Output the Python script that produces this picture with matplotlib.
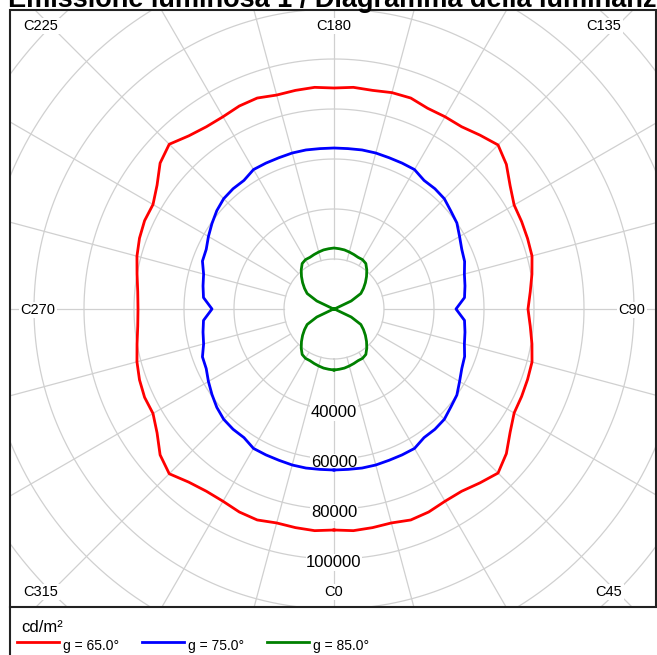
import numpy as np
import matplotlib
matplotlib.use("Agg")
import matplotlib.pyplot as plt
from matplotlib.patches import Rectangle
from matplotlib.lines import Line2D

plt.rcParams['font.family'] = ['Liberation Sans', 'DejaVu Sans']

# C-plane angles (degrees) and luminance values (cd/m²) per gamma angle
c_angles = list(range(0, 361, 5))

lum_g65 = [88400, 89000, 88800, 88600, 89800, 89600, 88800, 89000, 90800, 92800,
           90000, 86000, 83200, 82800, 82400, 82000, 80400, 78800, 77600,
           78800, 80400, 82000, 82400, 82800, 83200, 86000, 90000, 92800, 90800,
           89000, 88800, 88600, 89800, 89600, 88800, 89000, 88400,
           89000, 88800, 88600, 89800, 89600, 88800, 89000, 90400, 93200,
           90800, 86400, 83600, 83600, 82800, 81600, 80000, 78800, 78400,
           78800, 80000, 81600, 82800, 83600, 83600, 86400, 90800, 93200, 90400,
           89000, 88800, 89600, 89800, 88600, 88800, 89000, 88400]

lum_g75 = [64400, 64400, 64600, 64600, 64400, 64400, 64400, 62800, 62800, 62400,
           61000, 60000, 58000, 56400, 55600, 54000, 53200, 52400, 48800,
           52400, 53200, 54000, 55600, 56400, 58000, 60000, 61000, 62400, 62800,
           62800, 64400, 64400, 64400, 64600, 64600, 64400, 64400,
           64400, 64600, 64600, 64400, 64400, 64400, 62800, 62800, 62400,
           61200, 59600, 58000, 56400, 56000, 54000, 53200, 52400, 48800,
           52400, 53200, 54000, 56000, 56400, 58000, 59600, 61200, 62400, 62800,
           62800, 64400, 64400, 64400, 64600, 64600, 64400, 64400]

lum_g85 = [24400, 24200, 24000, 23600, 23200, 22800, 22800, 22200, 20400, 18400,
           16400, 14400, 12400, 7600, 800, 0, 0, 0, 0,
           0, 0, 0, 800, 7600, 12400, 14400, 16400, 18400, 20400,
           22200, 22800, 22800, 23200, 23600, 24000, 24200, 24400,
           24200, 24000, 23600, 23200, 22800, 22800, 22200, 20400, 18400,
           16400, 14400, 12400, 7600, 800, 0, 0, 0, 0,
           0, 0, 0, 800, 7600, 12400, 14400, 16400, 18400, 20400,
           22200, 22800, 22800, 23200, 23600, 24000, 24200, 24400]

series = [("g = 65.0°", lum_g65, "red"),
          ("g = 75.0°", lum_g75, "blue"),
          ("g = 85.0°", lum_g85, "green")]

ring_values = [20000, 40000, 60000, 80000, 100000, 120000, 140000, 160000]
ring_labels = [40000, 60000, 80000, 100000]
spoke_angles = list(range(0, 360, 15))
plane_labels = [("C225", 41, 26), ("C180", 334, 26), ("C135", 604, 26),
                ("C270", 38, 310), ("C90", 632, 310),
                ("C315", 41, 592), ("C0", 334, 592), ("C45", 609, 592)]

W, H = 657, 655
fig = plt.figure(figsize=(W / 100, H / 100), dpi=100)

# polar axes bigger than the frame, clipped to the frame rectangle
cx, cy, R = 334, H - 309, 450
rmax = 180000
ax = fig.add_axes([(cx - R) / W, (cy - R) / H, 2 * R / W, 2 * R / H], projection='polar')
ax.set_theta_zero_location('S')
ax.set_theta_direction(1)
ax.set_ylim(0, rmax)
ax.set_axis_off()

frame = Rectangle((10 / W, (H - 607) / H), 646 / W, 597 / H, transform=fig.transFigure,
                  fill=False, edgecolor='#222222', linewidth=1.5)
clip = Rectangle((10 / W, (H - 607) / H), 646 / W, 597 / H, transform=fig.transFigure)

grid_kw = dict(color='#d0d0d0', linewidth=0.9, zorder=1)
full = np.deg2rad(np.linspace(0, 360, 721))
for r in ring_values:
    ln, = ax.plot(full, np.full_like(full, r), **grid_kw)
    ln.set_clip_path(clip)
for a in spoke_angles:
    ln, = ax.plot([np.deg2rad(a)] * 2, [ring_values[0], rmax], **grid_kw)
    ln.set_clip_path(clip)

theta = np.deg2rad(c_angles)
for label, vals, col in series:
    ln, = ax.plot(theta, vals, color=col, linewidth=2, zorder=3)
    ln.set_clip_path(clip)

# ring values sit over the grid but under the curves
for v in ring_labels:
    ax.annotate(str(v), (0, v), xytext=(0, -2.5), textcoords='offset points',
                ha='center', va='center', fontsize=12, zorder=2,
                bbox=dict(facecolor='white', edgecolor='none', pad=0.5))

for txt, x, y in plane_labels:
    fig.text(x / W, (H - y) / H, txt, ha='center', va='center', fontsize=10.5,
             bbox=dict(facecolor='white', edgecolor='none', pad=1))

fig.add_artist(frame)
fig.add_artist(Line2D([10 / W, 10 / W], [0, (H - 607) / H], color='#222222', linewidth=1.5))

# title (partly cut off at the top, as in the reference)
fig.text(8 / W, (H - 7) / H, "Emissione luminosa 1 / Diagramma della luminanza",
         ha='left', va='baseline', fontsize=19.5, fontweight='bold')

# legend area
fig.text(21 / W, (H - 627) / H, "cd/m²", ha='left', va='center', fontsize=12)
legend_x = [17, 142, 267]
for (label, vals, col), x0 in zip(series, legend_x):
    fig.add_artist(Line2D([x0 / W, (x0 + 42) / W], [(H - 642) / H] * 2, color=col, linewidth=2))
    fig.text((x0 + 46) / W, (H - 646) / H, label, ha='left', va='center', fontsize=10)

fig.savefig("out.png", dpi=100)
